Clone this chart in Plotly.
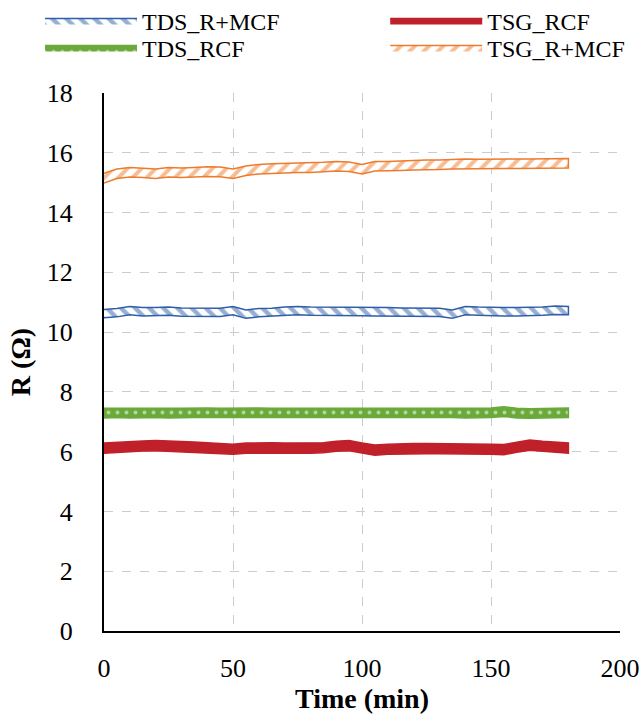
import plotly.graph_objects as go

time_min = [0, 5, 10, 15, 20, 25, 30, 35, 40, 45, 50, 55, 60, 65, 70, 75, 80, 85, 90,
            95, 100, 105, 110, 115, 120, 125, 130, 135, 140, 145, 150, 155, 160, 165,
            170, 175, 180]

tds_r_mcf = [10.62, 10.65, 10.72, 10.68, 10.68, 10.70, 10.67, 10.67, 10.66, 10.66,
             10.72, 10.60, 10.65, 10.66, 10.70, 10.72, 10.70, 10.70, 10.70, 10.69,
             10.69, 10.68, 10.68, 10.67, 10.67, 10.66, 10.66, 10.60, 10.72, 10.70,
             10.68, 10.68, 10.68, 10.68, 10.70, 10.73, 10.72]

tsg_rcf = [6.12, 6.15, 6.17, 6.19, 6.20, 6.19, 6.17, 6.15, 6.13, 6.10, 6.08, 6.12,
           6.13, 6.13, 6.12, 6.12, 6.12, 6.13, 6.18, 6.20, 6.12, 6.05, 6.08, 6.10,
           6.10, 6.10, 6.10, 6.10, 6.10, 6.09, 6.08, 6.07, 6.15, 6.22, 6.18, 6.15, 6.12]

tds_rcf = [7.29, 7.30, 7.29, 7.29, 7.30, 7.29, 7.29, 7.30, 7.30, 7.29, 7.30, 7.31,
           7.30, 7.29, 7.29, 7.28, 7.28, 7.29, 7.29, 7.28, 7.28, 7.28, 7.29, 7.29,
           7.28, 7.29, 7.30, 7.30, 7.29, 7.29, 7.30, 7.34, 7.29, 7.28, 7.29, 7.29, 7.30]

tsg_r_mcf = [15.15, 15.30, 15.35, 15.33, 15.30, 15.35, 15.33, 15.35, 15.37, 15.36,
             15.30, 15.40, 15.45, 15.47, 15.48, 15.50, 15.50, 15.52, 15.55, 15.53,
             15.45, 15.55, 15.55, 15.57, 15.58, 15.60, 15.60, 15.62, 15.63, 15.62,
             15.63, 15.63, 15.63, 15.63, 15.63, 15.64, 15.65]

x_ticks = [0, 50, 100, 150, 200]
y_ticks = [0, 2, 4, 6, 8, 10, 12, 14, 16, 18]

FONT = "Liberation Serif, Times New Roman, serif"

series = [
    # name, values, color, band half-width, pattern, legend
    ("TDS_R+MCF", tds_r_mcf, "#2f5ea8", 0.14,
     dict(shape="\\", fgcolor="#2f5ea8", bgcolor="white", size=10, solidity=0.45), "legend"),
    ("TSG_RCF", tsg_rcf, "#c0202a", 0.17, None, "legend2"),
    ("TDS_RCF", tds_rcf, "#6aaa3a", 0.16,
     dict(shape=".", fgcolor="white", bgcolor="#6aaa3a", size=9, solidity=0.15), "legend3"),
    ("TSG_R+MCF", tsg_r_mcf, "#ee7b2c", 0.16,
     dict(shape="/", fgcolor="#ee7b2c", bgcolor="white", size=10, solidity=0.4), "legend4"),
]

fig = go.Figure()
for name, vals, color, hw, pat, leg in series:
    upper = [v + hw for v in vals]
    lower = [v - hw for v in vals]
    xs = time_min + time_min[::-1]
    ys = upper + lower[::-1]
    kw = dict(fillcolor=color) if pat is None else dict(fillpattern=pat, fillcolor="white")
    fig.add_trace(go.Scatter(
        x=xs, y=ys, mode="lines", fill="toself", name=name, legend=leg,
        line=dict(color=color, width=1.5), hoverinfo="skip", **kw))

leg_common = dict(orientation="v", yanchor="middle", xanchor="left", itemwidth=92,
                  font=dict(size=24, family=FONT), bgcolor="rgba(0,0,0,0)")

col1, col2 = -0.124, 0.545
row1, row2 = 1.134, 1.084

fig.update_layout(
    width=642, height=722,
    paper_bgcolor="white", plot_bgcolor="white",
    margin=dict(l=104, r=22, t=93, b=91, autoexpand=False),
    font=dict(family=FONT, color="black", size=22),
    showlegend=True,
    hovermode=False,
    legend=dict(x=col1, y=row1, **leg_common),
    legend2=dict(x=col2, y=row1, **leg_common),
    legend3=dict(x=col1, y=row2, **leg_common),
    legend4=dict(x=col2, y=row2, **leg_common),
    xaxis=dict(range=[0, 200], tickvals=x_ticks, showgrid=True, automargin=False,
               gridcolor="#c8ccd4", griddash="dash", gridwidth=1,
               showline=True, linecolor="black", linewidth=2, zeroline=False,
               ticks="", tickfont=dict(size=26), ticklabelstandoff=13,
               title=dict(text="<b>Time (min)</b>", font=dict(size=28), standoff=4)),
    yaxis=dict(range=[0, 18], tickvals=y_ticks, showgrid=True, automargin=False,
               gridcolor="#c8ccd4", griddash="dash", gridwidth=1,
               showline=True, linecolor="black", linewidth=2, zeroline=False,
               ticks="", tickfont=dict(size=26), ticklabelstandoff=24,
               title=dict(text="<b>R (Ω)</b>", font=dict(size=28), standoff=8)),
)

# remove the default page margin so the 642x722 figure fills the window exactly
fig.write_html("out.html", config={"displayModeBar": False},
               post_script="document.body.style.margin='0';")
